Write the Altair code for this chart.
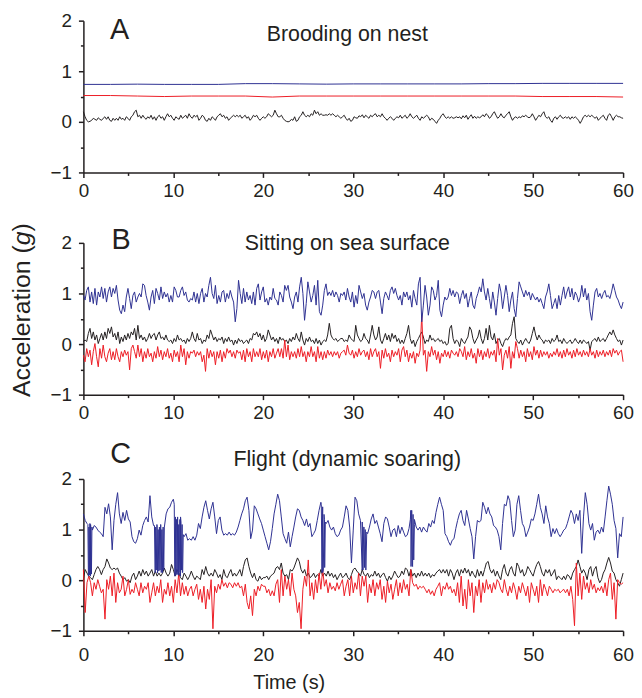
import altair as alt
import numpy as np
import pandas as pd

# ---------------- data ----------------
# Panel A (brooding on nest)
A_SLOW_T = [0, 3, 6, 9, 12, 15, 18, 21, 24, 27, 30, 33, 36, 39, 42, 45, 48, 51, 54, 57, 60]
A_BLUE = [0.74, 0.74, 0.745, 0.74, 0.74, 0.74, 0.755, 0.755, 0.75, 0.745, 0.75,
          0.75, 0.75, 0.75, 0.75, 0.755, 0.755, 0.76, 0.76, 0.76, 0.76]
A_RED = [0.52, 0.52, 0.51, 0.50, 0.51, 0.51, 0.51, 0.49, 0.51, 0.51, 0.51,
         0.51, 0.51, 0.51, 0.51, 0.51, 0.51, 0.50, 0.50, 0.50, 0.49]
A_BLACK = [
    0.20, 0.10, 0.03, 0.00, 0.01, 0.03, 0.07, 0.05, 0.03, 0.08,
    0.05, 0.03, 0.07, 0.10, 0.05, 0.10, 0.03, 0.01, 0.07, 0.03,
    0.07, 0.03, 0.10, 0.05, 0.07, 0.03, 0.10, 0.07, 0.03, 0.10,
    0.13, 0.20, 0.23, 0.10, 0.13, 0.07, 0.13, 0.08, 0.05, 0.10,
    0.07, 0.13, 0.05, 0.10, 0.03, 0.10, 0.13, 0.07, 0.10, 0.03,
    0.10, 0.16, 0.10, 0.13, 0.07, 0.03, 0.10, 0.07, 0.05, 0.13,
    0.07, 0.10, 0.13, 0.07, 0.16, 0.10, 0.07, 0.13, 0.10, 0.13,
    0.03, 0.07, 0.13, 0.10, 0.03, 0.01, 0.07, 0.03, 0.10, 0.07,
    0.03, 0.10, 0.13, 0.16, 0.10, 0.13, 0.07, 0.10, 0.03, 0.07,
    0.10, 0.13, 0.10, 0.13, 0.10, 0.13, 0.07, 0.10, 0.13, 0.07,
    0.10, 0.03, 0.07, 0.13, 0.10, 0.13, 0.07, 0.03, 0.07, 0.10,
    0.07, 0.10, 0.16, 0.13, 0.10, 0.13, 0.23, 0.16, 0.10, 0.10,
    0.13, 0.07, 0.03, 0.01, 0.00, 0.01, 0.05, 0.03, 0.10, 0.01,
    0.03, 0.10, 0.13, 0.20, 0.13, 0.10, 0.13, 0.10, 0.16, 0.13,
    0.23, 0.16, 0.20, 0.13, 0.16, 0.13, 0.13, 0.14,
    0.13, 0.16, 0.13, 0.16, 0.13, 0.10, 0.13, 0.10, 0.07, 0.10,
    0.13, 0.07, 0.03, 0.07, 0.01, 0.03, 0.10, 0.08, 0.07, 0.12,
    0.10, 0.14, 0.08, 0.13, 0.10, 0.07, 0.13, 0.10, 0.14, 0.16,
    0.10, 0.13, 0.10, 0.16, 0.10, 0.07, 0.03, 0.07, 0.10, 0.07,
    0.03, 0.07, 0.10, 0.08, 0.13, 0.07, 0.10, 0.13, 0.07, 0.10,
    0.16, 0.10, 0.07, 0.10, 0.13, 0.07, 0.03, 0.10, 0.07, 0.10,
    0.13, 0.10, 0.03, 0.07, 0.05, 0.01, -0.03, 0.03, 0.07, 0.13,
    0.16, 0.10, 0.07, 0.10, 0.07, 0.10, 0.07, 0.08, 0.10, 0.08,
    0.10, 0.06, 0.12, 0.08, 0.13, 0.05, 0.10, 0.14, 0.07, 0.11,
    0.07, 0.10, 0.08, 0.10, 0.14, 0.10, 0.16, 0.13, 0.07, 0.10,
    0.16, 0.20, 0.13, 0.07, 0.10, 0.16, 0.10, 0.08, 0.13, 0.16,
    0.20, 0.10, 0.03, 0.08, 0.10, 0.07, 0.10, 0.08, 0.12, 0.10,
    0.13, 0.10, 0.08, 0.10, 0.16, 0.10, 0.03, 0.08, 0.13, 0.10,
    0.16, 0.20, 0.10, 0.07, 0.10, 0.03, -0.01, 0.07, 0.10, 0.05,
    0.10, 0.13, 0.08, 0.07, 0.10, 0.07, 0.10, 0.05, 0.10, 0.07,
    0.10, 0.07, 0.03, -0.03, 0.03, 0.10, 0.13, 0.10, 0.13, 0.10,
    0.13, 0.10, 0.07, 0.10, 0.03, 0.07, 0.10, 0.13, 0.07, 0.03,
    0.13, 0.16, 0.10, 0.03, 0.10, 0.13, 0.10, 0.10, 0.08, 0.07,
]

# Panel B (sitting on sea surface)
B_BLUE = [
    0.96, 0.87, 1.06, 1.13, 0.83, 1.03, 0.80, 1.10, 0.77, 1.03,
    0.93, 1.13, 0.90, 1.10, 0.83, 1.03, 1.13, 0.93, 1.10, 1.00,
    1.16, 0.87, 0.67, 0.60, 0.77, 0.64, 0.93, 1.10, 0.90, 0.70,
    0.96, 1.03, 0.83, 0.93, 1.00, 0.93, 1.19, 1.16, 0.96, 0.83,
    0.67, 0.93, 1.06, 0.80, 1.10, 1.00, 0.87, 1.13, 0.90, 1.03,
    0.93, 1.00, 0.83, 0.96, 0.83, 1.13, 1.06, 0.93, 0.93, 1.06,
    1.13, 0.96, 1.03, 0.87, 0.83, 0.90, 0.87, 1.03, 0.83, 1.00,
    0.80, 1.00, 1.10, 0.83, 1.00, 0.93, 1.16, 1.32, 1.00, 0.90,
    1.16, 0.80, 0.96, 0.83, 1.03, 1.06, 0.83, 1.00, 0.90, 1.06,
    0.93, 0.83, 0.44, 0.70, 1.26, 1.00, 0.80, 1.10, 0.83, 1.03,
    0.87, 0.96, 0.80, 1.03, 0.77, 1.10, 1.19, 0.87, 1.03, 1.13,
    0.83, 0.90, 0.77, 0.93, 0.87, 1.10, 0.90, 0.87, 0.77, 1.03,
    0.96, 0.83, 1.16, 1.06, 1.16, 0.93, 0.83, 0.70, 0.93, 1.03,
    0.83, 1.13, 1.32, 1.00, 0.47, 0.80, 1.23, 1.03, 0.83, 0.96,
    1.16, 0.77, 1.26, 0.64, 0.57, 0.77, 1.06, 1.19, 0.96, 1.03,
    0.96, 1.06, 0.93, 1.03, 0.96, 0.83, 1.00,
    0.96, 1.03, 0.87, 1.10, 0.93, 0.83, 1.03, 0.73, 0.96, 0.80,
    1.16, 1.03, 0.90, 1.00, 0.77, 0.67, 0.83, 0.93, 1.06, 1.03,
    0.90, 1.03, 1.06, 0.83, 0.60, 0.90, 1.03, 0.96, 0.87, 1.06,
    1.13, 1.00, 1.10, 0.96, 0.87, 0.96, 0.77, 1.03, 0.93, 1.03,
    0.87, 0.96, 0.73, 1.06, 0.90, 0.77, 1.19, 1.32, 0.44, 0.77,
    1.16, 0.93, 0.57, 0.77, 1.13, 1.06, 0.87, 0.96, 1.26, 0.67,
    0.54, 0.77, 0.93, 0.87, 0.93, 1.10, 0.96, 1.06, 0.93, 1.03,
    1.00, 0.80, 0.96, 1.06, 0.90, 1.00, 0.73, 0.90, 1.03, 0.77,
    0.70, 0.90, 1.00, 1.13, 1.03, 1.29, 1.03, 0.87, 1.10, 0.90,
    0.70, 1.03, 0.83, 0.57, 0.90, 1.19, 1.03, 0.70, 0.93, 1.16,
    0.96, 0.64, 0.87, 1.03, 0.70, 0.54, 0.90, 1.23, 1.13, 1.03,
    0.93, 1.06, 0.96, 1.03, 0.87, 1.00, 0.93, 0.87, 0.93, 0.83,
    0.90, 0.80, 0.70, 0.93, 1.03, 1.19, 0.96, 0.70, 0.80, 0.90,
    0.70, 0.96, 0.77, 0.96, 1.13, 0.90, 1.03, 1.13, 0.93, 1.10,
    0.87, 1.03, 0.96, 0.83, 0.93, 1.16, 0.93, 1.10, 0.87, 1.00,
    0.64, 0.47, 0.77, 1.03, 1.10, 0.93, 1.00, 0.90, 1.00, 1.06,
    0.93, 0.96, 0.90, 1.03, 1.19, 1.06, 0.93, 0.87, 0.77, 0.70,
    0.83,
]
B_BLACK = [
    0.05, 0.08, 0.05, 0.21, 0.31, 0.11, 0.24, 0.08, 0.18, 0.01,
    0.11, 0.21, 0.08, 0.24, 0.11, 0.31, 0.21, 0.34, 0.14, 0.21,
    0.08, 0.24, 0.01, 0.14, 0.05, 0.18, 0.08, 0.21, 0.11, 0.24,
    0.18, 0.31, 0.08, 0.37, 0.11, 0.18, 0.08, 0.14, 0.05, 0.11,
    0.21, 0.11, 0.18, 0.21, 0.08, 0.18, 0.24, 0.11, 0.14, 0.08,
    0.18, 0.08, 0.05, 0.08, 0.01, 0.11, 0.05, 0.18, 0.08, 0.11,
    0.05, 0.08, 0.01, 0.11, 0.05, 0.11, 0.24, 0.11, 0.05, 0.21,
    0.08, 0.11, 0.01, 0.08, 0.05, 0.18, 0.11, 0.28, 0.18, 0.08,
    0.14, 0.05, 0.11, 0.08, 0.14, 0.01, 0.11, 0.05, 0.14, 0.05,
    0.08, -0.02, 0.08, 0.01, 0.11, 0.05, 0.08, 0.01, 0.05, 0.08,
    0.01, 0.11, 0.08, 0.21, 0.18, 0.24, 0.14, 0.21, 0.08, 0.18,
    0.05, 0.11, 0.28, 0.18, 0.08, 0.14, 0.05, 0.11, 0.01, 0.14,
    0.08, 0.11, 0.05, 0.08, 0.01, 0.11, 0.05, 0.14, 0.08, 0.21,
    0.11, 0.05, 0.24, 0.08, -0.02, 0.11, 0.05, 0.14, 0.05, 0.08,
    0.01, 0.11, 0.01, 0.08, -0.02, 0.05, 0.08, 0.05, 0.18, 0.41,
    0.18, 0.11, 0.08, 0.11, 0.05, 0.08, 0.11,
    0.11, 0.05, 0.08, 0.05, 0.18, 0.11, 0.08, 0.05, 0.37, 0.18,
    0.11, 0.05, 0.08, 0.21, 0.11, 0.08, 0.01, 0.18, 0.37, 0.18,
    0.08, 0.14, 0.34, 0.08, 0.01, 0.11, 0.21, 0.08, 0.18, 0.05,
    0.21, 0.11, 0.18, 0.05, 0.11, 0.01, 0.08, 0.01, 0.11, 0.21,
    0.37, 0.11, 0.01, 0.08, -0.05, 0.05, 0.11, 0.18, 0.24, 0.14,
    0.01, 0.08, 0.05, 0.18, 0.08, 0.11, 0.05, 0.08, 0.11, 0.05,
    0.08, 0.01, 0.05, -0.02, 0.01, 0.31, 0.37, 0.11, 0.01, 0.08,
    0.05, -0.05, 0.11, 0.05, 0.01, 0.08, 0.14, 0.34, 0.28, 0.11,
    0.01, 0.08, 0.14, 0.28, 0.11, 0.01, 0.11, 0.31, 0.08, 0.37,
    0.14, 0.08, 0.21, 0.01, 0.08, 0.11, 0.01, -0.05, 0.05, 0.11,
    0.08, 0.14, 0.18, 0.41, 0.54, 0.11, 0.05, 0.01, 0.08, -0.02,
    0.05, 0.11, 0.05, 0.01, 0.08, 0.21, 0.34, 0.18, 0.08, 0.18,
    0.11, 0.08, 0.01, 0.08, 0.05, 0.08, 0.01, 0.11, 0.05, 0.08,
    0.18, 0.05, 0.08, 0.01, 0.11, 0.05, 0.01, 0.05, 0.08, 0.01,
    0.05, 0.11, 0.05, 0.01, 0.08, 0.01, 0.08, 0.05, 0.01, 0.05,
    -0.12, 0.05, 0.08, 0.11, 0.05, 0.14, 0.05, 0.08, 0.11, 0.05,
    0.11, 0.18, 0.24, 0.18, 0.28, 0.18, 0.11, 0.05, 0.08, -0.02,
    0.08,
]
B_RED = [
    -0.22, -0.35, -0.09, -0.25, -0.12, -0.41, -0.15, 0.01, -0.25, -0.45,
    -0.09, -0.28, -0.02, -0.25, -0.35, -0.18, -0.09, -0.31, -0.15, -0.31,
    -0.09, -0.25, -0.35, -0.15, -0.25, -0.12, -0.22, -0.15, -0.51, -0.09,
    -0.02, -0.15, -0.28, -0.02, -0.25, -0.09, -0.35, -0.15, -0.28, -0.09,
    -0.25, -0.18, -0.35, -0.15, -0.28, -0.05, -0.25, -0.12, -0.31, -0.15,
    -0.25, -0.09, -0.28, -0.18, -0.35, -0.12, -0.25, -0.15, -0.35, -0.02,
    -0.25, -0.09, -0.41, -0.15, -0.28, -0.15, -0.18, -0.12, -0.25, -0.15,
    -0.22, -0.15, -0.35, -0.22, -0.54, -0.09, -0.28, -0.12, -0.25, -0.15,
    -0.41, -0.15, -0.28, -0.12, -0.35, -0.15, -0.28, -0.09, -0.18, -0.12,
    -0.25, -0.15, -0.28, -0.12, -0.18, -0.15, -0.31, -0.12, -0.35, -0.09,
    -0.25, -0.15, -0.35, -0.09, -0.25, -0.15, -0.25, -0.09, -0.31, -0.15,
    -0.28, -0.12, -0.35, -0.15, -0.25, -0.09, -0.28, -0.18, -0.09, -0.25,
    -0.09, -0.28, 0.08, -0.25, -0.02, -0.31, -0.15, -0.25, -0.15, -0.28,
    -0.09, -0.25, -0.05, -0.25, -0.15, -0.35, -0.15, -0.25, -0.05, -0.25,
    -0.15, -0.35, -0.05, -0.28, -0.15, -0.31, -0.15, -0.28, -0.12, -0.22,
    -0.15, -0.25, -0.15, -0.22, -0.15, -0.28, -0.18,
    -0.15, -0.12, -0.22, -0.02, -0.18, -0.22, -0.12, -0.28, -0.15, -0.25,
    -0.09, -0.22, -0.15, -0.12, -0.25, -0.15, -0.31, -0.09, -0.25, -0.15,
    -0.09, -0.25, -0.15, -0.48, -0.12, -0.28, -0.09, -0.25, -0.18, -0.35,
    -0.12, -0.25, -0.15, -0.22, -0.09, -0.35, -0.12, -0.05, -0.25, -0.12,
    -0.35, -0.18, -0.28, -0.15, -0.38, -0.18, -0.25, -0.12, 0.57, -0.22,
    -0.12, -0.54, -0.15, -0.25, -0.05, -0.22, -0.12, -0.31, -0.15, -0.38,
    -0.18, -0.25, -0.12, -0.25, -0.15, -0.28, -0.12, -0.18, -0.22, -0.15,
    -0.25, -0.09, -0.15, -0.25, -0.05, -0.31, -0.15, -0.25, -0.09, -0.28,
    -0.18, -0.38, -0.09, -0.25, -0.12, -0.31, -0.15, -0.25, -0.09, -0.28,
    -0.15, -0.22, -0.12, -0.35, 0.11, -0.22, -0.09, -0.51, -0.22, -0.12,
    -0.28, -0.05, -0.48, -0.15, -0.28, 0.05, -0.09, -0.28, -0.12, -0.25,
    -0.15, -0.35, -0.09, -0.25, -0.15, -0.31, -0.05, -0.22, -0.12, -0.28,
    -0.12, -0.25, -0.15, -0.22, -0.15, -0.28, -0.18, -0.25, -0.15, -0.22,
    -0.09, -0.25, -0.15, -0.28, -0.12, -0.25, -0.09, -0.22, -0.15, -0.28,
    -0.12, -0.25, -0.09, -0.22, -0.15, -0.25, -0.12, -0.22, -0.15, -0.25,
    -0.09, -0.22, -0.15, -0.28, -0.12, -0.25, -0.15, -0.22, -0.12, -0.25,
    -0.15, -0.22, -0.12, -0.25, -0.09, -0.18, -0.12, -0.22, -0.15, -0.12,
    -0.35,
]

# Panel C (flight, dynamic soaring) – sampled every 0.2 s
C_BLUE = [
    1.31, 1.18, 1.12, 0.10, 1.10, 0.99, 1.08, 1.05, 0.99, 0.95,
    0.92, 0.86, 1.44, 1.31, 1.51, 1.25, 0.60, 1.18, 1.50, 1.73,
    1.31, 1.12, 1.34, 1.18, 1.38, 1.21, 1.15, 0.86, 0.76, 0.73,
    0.82, 0.99, 0.89, 1.08, 1.18, 1.25, 1.15, 1.67, 1.25, 1.08,
    0.15, 1.05, 0.20, 1.10, 0.15, 1.05, 1.31, 1.41, 1.44, 1.54,
    1.60, 0.10, 1.20, 0.10, 1.25, 0.15, 0.86, 0.92, 0.79, 0.82,
    0.79, 0.86, 0.79, 0.89, 1.12, 1.02, 1.25, 1.44, 1.57, 1.38,
    1.21, 1.41, 1.54, 1.25, 0.92, 1.18, 1.25, 0.99, 0.89, 0.92,
    0.89, 0.95, 0.89, 0.92, 0.89, 0.95, 1.05, 1.18, 1.31, 1.41,
    1.57, 1.64, 1.38, 0.82, 0.99, 1.47, 1.41, 1.31, 1.21, 1.12,
    0.99,
    0.86, 0.73, 0.60, 0.76, 1.02, 1.31, 1.50, 1.70, 1.57, 1.25,
    0.92, 0.82, 0.73, 0.95, 0.66, 0.86, 1.05, 1.25, 1.41, 1.38,
    1.25, 1.18, 1.08, 1.21, 1.05, 1.12, 0.86, 0.92, 0.99, 1.18,
    1.38, 1.54, 0.15, 1.20, 1.12, 1.18, 1.05, 0.99, 1.05, 0.92,
    0.86, 0.89, 0.99, 1.05, 1.25, 1.47, 1.38, 1.05, 0.34, 0.99,
    1.64, 1.57, 1.31, 1.18, 0.20, 1.05, 0.20, 0.92, 1.05, 1.21,
    1.31, 1.12, 1.18, 1.05, 0.92, 0.76, 1.12, 1.25, 1.21, 1.05,
    0.86, 0.99, 1.02, 0.86, 1.08, 0.92, 1.05, 0.95, 0.86, 0.89,
    1.02, 1.38, 0.27, 1.20, 1.05, 0.99, 1.05, 0.95, 1.05, 0.99,
    0.95, 1.12, 1.05, 1.18, 1.12, 1.34, 1.50, 1.64, 1.50, 1.38,
    0.92, 0.86, 0.76, 0.69, 0.79, 0.82, 1.02, 1.18, 1.31, 1.38,
    1.18, 1.08, 1.38, 1.21, 1.02, 0.86, 0.42, 0.86, 1.18, 1.15,
    1.18, 1.54, 1.44, 1.31, 1.44, 1.31, 1.25, 1.08, 1.05, 0.99,
    0.86, 0.60, 1.12, 1.50, 1.47, 1.67, 1.57, 1.18, 0.86, 0.99,
    1.50, 1.67, 1.38, 1.12, 1.05, 0.86, 0.95, 1.05, 1.21, 1.18,
    1.31, 1.50, 1.70, 1.44, 1.31, 1.12, 1.47, 1.25, 1.12, 0.86,
    1.02, 0.92, 1.02, 0.92, 0.86, 0.92, 0.99, 1.02, 1.12, 1.25,
    1.38, 1.31, 1.12, 1.31, 1.18, 1.38, 0.53, 1.25, 1.73, 1.50,
    1.12, 0.99, 1.12, 0.79, 0.95, 0.99, 0.92, 1.05, 0.95, 1.25,
    1.57, 1.86, 1.70, 1.50, 1.18, 1.02, 0.44, 0.92, 0.86, 1.25,
]
# rapid blue bursts in panel C: (start s, end s, values)
C_BLUE_BURSTS = [
    (0.50, 0.95, [1.10, 0.08, 1.05, 0.10, 1.12, 0.08, 1.00, 0.12, 1.05]),
    (7.90, 9.00, [1.08, 0.15, 1.05, 0.20, 1.10, 0.14, 1.00, 0.18, 1.05, 0.20,
                  1.10, 0.15, 1.00, 0.25, 1.05, 0.20, 1.05]),
    (10.10, 11.10, [1.50, 0.08, 1.25, 0.10, 1.20, 0.12, 1.25, 0.10, 1.10, 0.15,
                    1.20, 0.08, 1.15, 0.20, 1.10, 0.15, 0.90]),
    (26.45, 26.90, [1.50, 0.15, 1.45, 0.20, 1.30, 0.25, 1.15]),
    (31.00, 31.50, [1.15, 0.20, 1.05, 0.25, 1.00, 0.30, 0.95]),
    (36.35, 36.80, [1.20, 0.27, 1.38, 0.30, 1.30, 0.40, 1.10]),
]
C_BLACK = [
    0.01, 0.21, 0.14, 0.08, 0.05, 0.01, 0.11, 0.21, 0.27, 0.21,
    0.11, 0.21, 0.27, 0.42, 0.34, 0.24, 0.21, 0.24, 0.21, 0.24,
    0.14, 0.08, 0.01, 0.05, -0.02, 0.01, -0.05, 0.08, 0.14, 0.01,
    0.08, 0.18, 0.08, 0.21, 0.11, 0.18, 0.08, 0.14, 0.21, 0.08,
    0.18, 0.08, 0.14, 0.08, 0.14, 0.24, 0.14, 0.08, 0.14, 0.31,
    0.21, 0.08, 0.21, 0.14, 0.05, 0.01, 0.14, 0.08, 0.01, 0.08,
    0.18, 0.08, 0.01, 0.08, 0.05, 0.01, 0.21, 0.11, 0.27, 0.14,
    0.08, 0.14, 0.08, 0.21, 0.14, 0.05, 0.11, 0.01, 0.21, 0.08,
    0.05, 0.14, 0.21, 0.08, 0.14, 0.08, 0.14, 0.21, 0.08, 0.27,
    0.40, 0.44, 0.27, 0.14, 0.05, 0.14, 0.01, -0.02, 0.08, 0.01,
    0.05,
    0.05, 0.08, 0.01, 0.08, 0.11, 0.14, 0.24, 0.27, 0.21, 0.34,
    0.14, 0.08, 0.11, 0.01, 0.21, 0.18, 0.24, 0.34, 0.44, 0.37,
    0.21, 0.14, 0.21, 0.08, 0.14, 0.05, 0.08, 0.14, 0.05, 0.11,
    0.08, 0.21, 0.08, 0.14, 0.08, 0.18, 0.08, 0.14, 0.05, 0.11,
    0.01, 0.08, 0.14, 0.05, 0.08, 0.14, 0.05, 0.01, 0.11, 0.21,
    0.24, 0.18, 0.14, 0.08, 0.21, 0.11, 0.08, 0.14, 0.05, 0.11,
    0.08, 0.18, 0.08, 0.14, 0.05, 0.11, 0.14, 0.05, -0.02, 0.08,
    0.01, 0.08, 0.18, 0.11, 0.05, 0.08, 0.18, 0.11, 0.24, 0.21,
    0.08, 0.21, 0.08, 0.14, 0.05, 0.14, 0.08, 0.18, 0.08, 0.14,
    0.08, 0.14, 0.05, 0.11, 0.08, 0.14, 0.18, 0.21, 0.14, 0.21,
    0.14, 0.21, 0.08, 0.21, 0.14, 0.01, 0.14, 0.21, 0.08, 0.21,
    0.14, 0.24, 0.14, 0.21, 0.08, 0.18, 0.11, 0.05, 0.21, 0.08,
    0.18, 0.08, 0.21, 0.34, 0.37, 0.21, 0.14, 0.21, 0.08, 0.18,
    0.08, 0.01, 0.21, 0.31, 0.14, 0.08, 0.21, 0.27, 0.14, 0.08,
    0.34, 0.27, 0.14, 0.21, 0.08, 0.14, 0.27, 0.21, 0.14, 0.08,
    0.21, 0.31, 0.37, 0.27, 0.14, 0.08, 0.21, 0.14, 0.21, 0.08,
    0.14, 0.21, 0.01, 0.08, 0.05, 0.01, 0.08, 0.01, 0.11, 0.08,
    0.01, 0.14, 0.21, 0.27, 0.40, 0.27, 0.14, 0.21, 0.14, 0.01,
    0.21, 0.27, 0.08, 0.21, 0.27, 0.05, -0.05, 0.01, 0.14, 0.21,
    0.34, 0.45, 0.34, 0.18, 0.14, 0.01, -0.05, -0.12, 0.01, 0.14,
]
C_RED = [
    0.21, -0.64, -0.05, 0.08, -0.05, -0.31, -0.05, -0.18, 0.01, -0.12,
    -0.25, -0.18, -0.77, 0.01, -0.18, 0.08, -0.31, 0.14, -0.44, -0.05,
    -0.25, -0.18, 0.08, -0.31, -0.18, 0.01, -0.28, -0.18, -0.25, -0.05,
    -0.18, -0.31, -0.05, -0.25, -0.12, -0.18, -0.05, -0.44, -0.25, -0.05,
    -0.31, -0.12, -0.25, 0.01, -0.44, -0.18, -0.28, -0.05, -0.31, -0.12,
    -0.44, 0.01, -0.25, 0.14, -0.31, -0.05, -0.28, -0.12, -0.31, -0.18,
    -0.12, -0.31, -0.18, -0.08, -0.38, -0.18, -0.44, -0.12, -0.57, -0.18,
    -0.38, 0.01, -0.96, -0.12, -0.25, -0.08, -0.18, 0.01, -0.12, -0.05,
    -0.15, -0.05, -0.08, -0.15, -0.05, -0.12, -0.05, -0.15, -0.12, -0.31,
    -0.08, -0.44, -0.57, -0.31, -0.70, -0.18, -0.31, -0.12, -0.21, -0.08,
    -0.12,
    -0.12, -0.25, -0.18, -0.31, -0.21, -0.31, -0.08, 0.01, -0.44, 0.21,
    -0.31, 0.08, -0.18, 0.01, -0.31, 0.14, -0.18, -0.31, -0.64, -0.44,
    -0.96, -0.18, 0.08, -0.12, 0.40, -0.31, -0.05, -0.38, 0.01, -0.25,
    0.14, -0.18, 0.21, -0.12, 0.01, -0.25, -0.05, -0.18, -0.12, -0.21,
    -0.05, -0.18, -0.08, 0.01, -0.31, -0.12, 0.01, -0.31, 0.08, -0.25,
    -0.05, -0.18, 0.14, -0.31, 0.08, -0.12, 0.08, -0.44, -0.08, -0.25,
    0.01, -0.31, -0.05, -0.18, 0.01, -0.38, -0.12, -0.44, -0.02, -0.25,
    -0.08, -0.38, -0.18, 0.01, -0.31, -0.05, -0.25, 0.01, -0.18, -0.08,
    -0.31, 0.21, -0.05, -0.12, -0.08, -0.18, -0.12, -0.15, -0.12, -0.18,
    -0.25, -0.18, -0.28, -0.21, -0.31, -0.18, -0.12, -0.05, -0.31, -0.12,
    -0.18, -0.05, -0.18, -0.12, -0.25, -0.18, -0.31, -0.05, -0.44, 0.08,
    -0.51, -0.18, -0.57, 0.01, -0.31, -0.05, -0.64, -0.12, -0.31, 0.01,
    -0.44, -0.05, -0.25, 0.01, -0.18, -0.08, -0.25, -0.05, -0.18, 0.01,
    -0.05, -0.18, -0.25, 0.01, -0.18, -0.31, -0.12, -0.25, -0.05, -0.18,
    -0.38, -0.12, -0.25, -0.05, -0.18, -0.31, -0.12, -0.44, -0.05, -0.18,
    -0.31, -0.12, -0.44, 0.01, -0.31, -0.08, -0.18, -0.31, -0.12, -0.18,
    -0.25, -0.18, -0.21, -0.18, -0.25, -0.21, -0.18, -0.25, -0.18, -0.31,
    -0.12, -0.38, -0.90, 0.34, -0.31, 0.14, -0.38, 0.08, -0.18, -0.05,
    -0.25, 0.01, -0.18, -0.08, -0.25, -0.15, -0.21, -0.12, -0.25, -0.05,
    -0.31, 0.01, 0.14, -0.38, -0.05, -0.77, 0.01, -0.05, -0.08, -0.05,
]

PANEL_TITLES = ["Brooding on nest", "Sitting on sea surface", "Flight (dynamic soaring)"]
PANEL_LETTERS = ["A", "B", "C"]
X_TICKS = list(range(0, 61, 5))
Y_TICKS = [-1, -0.5, 0, 0.5, 1, 1.5, 2]

BLUE = "#2e3192"
RED = "#ed1c24"
BLACK = "#231f20"
INK = "#231f20"
FONT = "Liberation Sans"

W, H = 544, 153


def series(values, t0=0.0, t1=60.0):
    return pd.DataFrame({"t": np.linspace(t0, t1, len(values)), "v": values})


def with_times(times, values):
    return pd.DataFrame({"t": times, "v": values})


c_blue_df = pd.concat(
    [series(C_BLUE)] + [series(v, a, b) for a, b, v in C_BLUE_BURSTS],
    ignore_index=True,
)


def x_axis(label_pad):
    return alt.Axis(
        title=None, values=X_TICKS, grid=False, format="~g",
        labelExpr="datum.value % 10 === 0 ? datum.label : ''",
        tickSize={"condition": {"test": "datum.value % 10 === 0", "value": 5}, "value": 3},
        labelFlush=False, labelOverlap=False, labelPadding=label_pad,
        labelFont=FONT, labelFontSize=19, labelColor=INK,
        domainColor=INK, domainWidth=1.5, tickColor=INK, tickWidth=1.5,
    )


Y_AXIS = alt.Axis(
    title=None, values=Y_TICKS, grid=False, format="~g",
    labelExpr="datum.value % 1 === 0 ? datum.label : ''",
    tickSize={"condition": {"test": "datum.value % 1 === 0", "value": 5}, "value": 3},
    labelFlush=False, labelOverlap=False, labelPadding=7,
    labelFont=FONT, labelFontSize=19, labelColor=INK,
    domainColor=INK, domainWidth=1.5, tickColor=INK, tickWidth=1.5,
)

XS = alt.Scale(domain=[0, 60], nice=False, zero=False)
YS = alt.Scale(domain=[-1, 2], nice=False, zero=False)

ONE = pd.DataFrame({"a": [0]})


def text(s, x, y, size, align="left", baseline="alphabetic", angle=0, style="normal"):
    return alt.Chart(ONE).mark_text(
        text=s, align=align, baseline=baseline, fontSize=size, font=FONT,
        color=INK, angle=angle, fontStyle=style,
    ).encode(x=alt.value(x), y=alt.value(y))


def panel(lines, letter, letter_xy, title, title_y, label_pad, extra=()):
    layers = []
    for df, color in lines:
        layers.append(
            alt.Chart(df).mark_line(color=color, strokeWidth=1).encode(
                x=alt.X("t:Q", scale=XS, axis=x_axis(label_pad)),
                y=alt.Y("v:Q", scale=YS, axis=Y_AXIS),
            )
        )
    layers.append(text(letter, letter_xy[0], letter_xy[1], 29))
    layers.append(text(title, 266, title_y, 21.5, align="center"))
    layers.extend(extra)
    return alt.layer(*layers).properties(width=W, height=H)


pA = panel(
    [(with_times(A_SLOW_T, A_BLUE), BLUE), (with_times(A_SLOW_T, A_RED), RED),
     (series(A_BLACK), BLACK)],
    PANEL_LETTERS[0], (26.7, 19), PANEL_TITLES[0], 21, 4,
)

TX = -54
y_title = [
    text("Acceleration (", TX, 2.5, 25, align="right", angle=270),
    text("g", TX, 2.5, 25, align="left", angle=270, style="italic"),
    text(")", TX, -11.4, 25, align="left", angle=270),
]
pB = panel(
    [(series(B_BLACK), BLACK), (series(B_RED), RED), (series(B_BLUE), BLUE)],
    PANEL_LETTERS[1], (28.3, 6), PANEL_TITLES[1], 7.3, 4, extra=y_title,
)

pC = panel(
    [(series(C_BLACK), BLACK), (series(C_RED), RED), (c_blue_df, BLUE)],
    PANEL_LETTERS[2], (27, -16), PANEL_TITLES[2], -12.6, 10,
    extra=[text("Time (s)", 207.5, 205.7, 20, align="center", baseline="middle")],
)


def spacer(h):
    return alt.Chart(ONE).mark_point(opacity=0).encode(
        x=alt.value(0), y=alt.value(0)
    ).properties(width=W, height=h)


chart = alt.vconcat(
    pA, spacer(70.4), pB, spacer(84.6), pC, spacing=0, bounds="flush"
).properties(
    padding={"left": 2, "top": 1, "right": 0, "bottom": 0}
).configure_view(stroke=None)

chart.save("out.html", embed_options={"renderer": "svg", "actions": False})
